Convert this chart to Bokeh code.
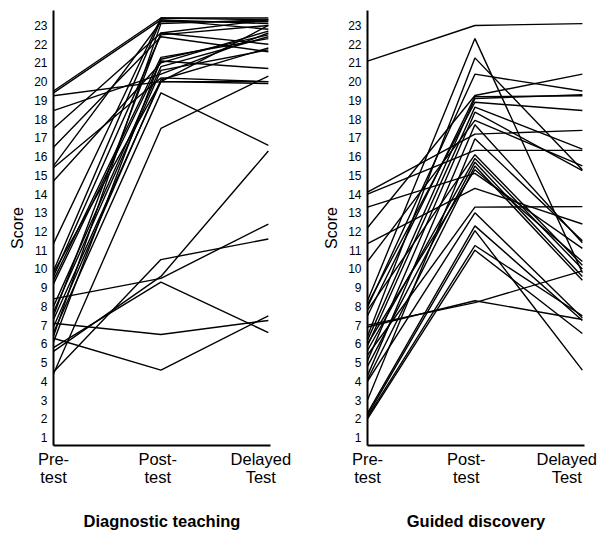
from bokeh.plotting import figure
from bokeh.layouts import row
from bokeh.models import FixedTicker, Range1d
from bokeh.embed import file_html
from bokeh.resources import INLINE

# ---------------- data ----------------
categories = ["Pre-\ntest", "Post-\ntest", "Delayed\nTest"]
y_ticks = list(range(1, 24))

diag_pre = [19.5, 19.4, 19.25, 18.45, 17.5, 16.5, 15.5, 15.4, 14.7, 11.35,
            9.9, 9.6, 9.4, 9.2, 8.0, 7.7, 7.3, 6.9, 6.6, 6.4,
            6.1, 9.8, 7.5, 8.4, 7.1, 6.3, 5.8, 5.6, 4.5, 4.4]
diag_post = [23.4, 23.3, 20.0, 20.4, 22.6, 22.4, 23.2, 20.2, 21.0, 23.4,
             23.3, 22.5, 21.3, 21.1, 20.8, 20.6, 20.0, 20.1, 19.4, 23.1,
             21.2, 20.0, 22.6, 9.5, 6.5, 4.6, 9.3, 9.6, 10.5, 17.5]
diag_delayed = [23.3, 23.1, 19.9, 22.6, 23.3, 21.6, 23.2, 20.0, 22.7, 23.4,
                22.8, 23.0, 22.3, 20.7, 22.4, 21.7, 23.0, 21.8, 16.6, 23.3,
                22.5, 20.0, 22.0, 12.4, 7.25, 7.5, 6.6, 16.3, 11.6, 20.3]

guided_pre = [21.1, 14.1, 14.0, 13.3, 12.2, 11.35, 10.4, 8.3, 8.1, 7.96,
              7.8, 7.0, 6.9, 6.4, 6.2, 5.9, 5.65, 5.4, 5.1, 4.8,
              4.3, 4.1, 4.0, 3.0, 2.3, 2.2, 2.1, 2.0, 6.0, 7.5]
guided_post = [23.0, 17.2, 16.33, 15.1, 19.26, 14.3, 17.93, 22.3, 18.9, 20.4,
               16.1, 8.2, 8.3, 21.27, 19.1, 18.64, 15.9, 13.3, 18.37, 15.7,
               17.7, 15.5, 13.0, 16.95, 12.3, 12.05, 11.25, 11.0, 15.3, 19.2]
guided_delayed = [23.1, 17.4, 16.33, 11.1, 20.4, 12.4, 15.5, 9.8, 18.46, 19.5,
                  10.2, 9.9, 7.3, 15.3, 19.3, 16.4, 10.0, 13.33, 15.25, 9.6,
                  11.4, 9.4, 7.4, 11.5, 7.25, 4.6, 7.5, 6.55, 10.4, 19.25]

FONT = "Liberation Sans"


def make_panel(title, pre, post, delayed, width, border_left, border_right, label_pos):
    x = list(range(len(categories)))
    p = figure(width=width, height=537,
               x_range=Range1d(0, 2.02), y_range=Range1d(0.573, 23.8),
               output_backend="svg", toolbar_location=None,
               min_border_left=border_left, min_border_right=border_right,
               min_border_top=10, min_border_bottom=92)
    xs = [x for _ in pre]
    ys = [[a, b, c] for a, b, c in zip(pre, post, delayed)]
    p.multi_line(xs=xs, ys=ys, line_color="black", line_width=1.4)

    p.grid.visible = False
    p.outline_line_color = None
    p.background_fill_color = "white"
    p.border_fill_color = "white"

    # y axis
    p.yaxis.ticker = FixedTicker(ticks=y_ticks)
    p.yaxis.axis_label = "Score"
    p.yaxis.axis_label_text_font = FONT
    p.yaxis.axis_label_text_font_size = "16px"
    p.yaxis.axis_label_text_font_style = "normal"
    p.yaxis.axis_label_text_color = "black"
    p.yaxis.axis_label_standoff = 5
    p.yaxis.major_label_text_font = FONT
    p.yaxis.major_label_text_font_size = "12px"
    p.yaxis.major_label_text_color = "black"
    p.yaxis.major_label_standoff = 6
    p.yaxis.major_tick_line_color = None
    p.yaxis.minor_tick_line_color = None
    p.yaxis.major_tick_out = 0
    p.yaxis.axis_line_width = 2
    p.yaxis.axis_line_color = "black"

    # x axis
    p.xaxis.ticker = FixedTicker(ticks=label_pos)
    p.xaxis.major_label_overrides = {pos: lab for pos, lab in zip(label_pos, categories)}
    p.xaxis.major_label_text_font = FONT
    p.xaxis.major_label_text_font_size = "16.5px"
    p.xaxis.major_label_text_line_height = 1.05
    p.xaxis.major_label_text_color = "black"
    p.xaxis.major_label_standoff = 4
    p.xaxis.major_tick_line_color = None
    p.xaxis.minor_tick_line_color = None
    p.xaxis.major_tick_out = 0
    p.xaxis.axis_line_width = 2
    p.xaxis.axis_line_color = "black"
    p.xaxis.axis_label = title
    p.xaxis.axis_label_text_font = FONT
    p.xaxis.axis_label_text_font_size = "16.5px"
    p.xaxis.axis_label_text_font_style = "bold"
    p.xaxis.axis_label_text_color = "black"
    p.xaxis.axis_label_standoff = 23
    return p


p1 = make_panel("Diagnostic teaching", diag_pre, diag_post, diag_delayed,
                299, 53, 29, [0, 0.97, 1.93])
p2 = make_panel("Guided discovery", guided_pre, guided_post, guided_delayed,
                299, 68, 14, [0, 0.92, 1.855])

layout = row(p1, p2)
open("out.html", "w").write(file_html(layout, INLINE))
